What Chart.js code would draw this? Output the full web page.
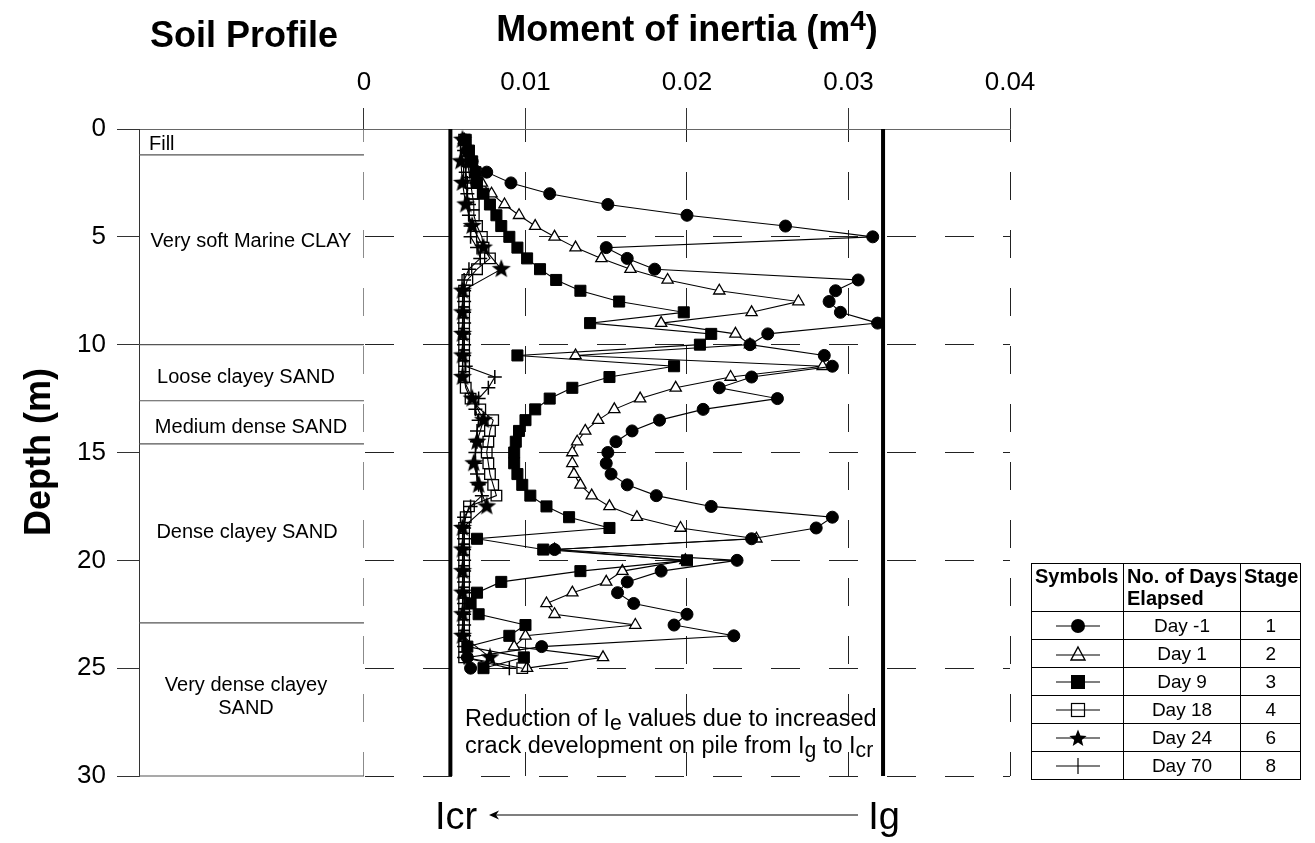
<!DOCTYPE html>
<html>
<head>
<meta charset="utf-8">
<script src="https://cdn.jsdelivr.net/npm/chart.js@4.4.1/dist/chart.umd.min.js"></script>
<style>
html,body{margin:0;padding:0;background:#fff;}
#wrap{position:relative;width:1315px;height:843px;font-family:"Liberation Sans",Arial,Helvetica,sans-serif;color:#000;overflow:hidden;}
#c{position:absolute;left:0;top:0;}
.t{position:absolute;white-space:nowrap;}
.c{transform:translateX(-50%);text-align:center;}
.soil{font-size:20px;line-height:20px;}
#lg{position:absolute;left:1031px;top:563px;border-collapse:collapse;table-layout:fixed;font-family:"Liberation Sans",Arial,sans-serif;}
#lg td,#lg th{border:1px solid #000;padding:0;}
#lg th{font-weight:bold;font-size:20px;line-height:22px;vertical-align:top;text-align:left;height:46px;padding:1px 2px 0 3px;}
#lg td{font-size:19px;line-height:20px;text-align:center;height:27px;vertical-align:middle;}
#lg svg{display:block;margin:0 auto;}
</style>
</head>
<body>
<div id="wrap">
<canvas id="c" width="1315" height="843"></canvas>

<div class="t c" style="left:244px;top:17px;font-size:36px;line-height:36px;font-weight:bold;">Soil Profile</div>
<div class="t c" style="left:687px;top:11px;font-size:36px;line-height:36px;font-weight:bold;">Moment of inertia (m<span style="font-size:0.78em;position:relative;top:-0.38em;">4</span>)</div>
<div class="t" style="left:38px;top:452px;font-size:36px;line-height:36px;font-weight:bold;transform:translate(-50%,-50%) rotate(-90deg);">Depth (m)</div>

<div class="t soil" style="left:149px;top:133px;">Fill</div>
<div class="t soil c" style="left:251px;top:230px;">Very soft Marine CLAY</div>
<div class="t soil c" style="left:246px;top:366px;">Loose clayey SAND</div>
<div class="t soil c" style="left:251px;top:416px;">Medium dense SAND</div>
<div class="t soil c" style="left:247px;top:521px;">Dense clayey SAND</div>
<div class="t soil c" style="left:246px;top:673px;line-height:23px;">Very dense clayey<br>SAND</div>

<div class="t" style="left:465px;top:705px;font-size:23.5px;line-height:27px;">Reduction of I<span style="font-size:0.9em;position:relative;top:0.18em;">e</span> values due to increased<br>crack development on pile from I<span style="font-size:0.9em;position:relative;top:0.18em;">g</span> to I<span style="font-size:0.9em;position:relative;top:0.18em;">cr</span></div>

<div class="t c" style="left:456px;top:797px;font-size:38px;line-height:38px;">Icr</div>
<div class="t c" style="left:884px;top:797px;font-size:38px;line-height:38px;">Ig</div>
<svg class="t" style="left:480px;top:806px;" width="392" height="18">
  <line x1="11" y1="9" x2="378" y2="9" stroke="#000" stroke-width="1.2"/>
  <polygon points="9,9 19,4.5 16,9 19,13.5" fill="#000"/>
</svg>

<table id="lg">
<colgroup><col style="width:92px"><col style="width:117px"><col style="width:58px"></colgroup>
<tr><th>Symbols</th><th>No. of Days<br>Elapsed</th><th>Stage</th></tr>
<tr><td><svg width="50" height="20"><line x1="3" y1="10" x2="47" y2="10" stroke="#000" stroke-width="1.2"/><circle cx="25" cy="10" r="7" fill="#000"/></svg></td><td>Day -1</td><td>1</td></tr>
<tr><td><svg width="50" height="20"><line x1="3" y1="11" x2="47" y2="11" stroke="#000" stroke-width="1.2"/><polygon points="25,3 32,16 18,16" fill="none" stroke="#000" stroke-width="1.4"/></svg></td><td>Day 1</td><td>2</td></tr>
<tr><td><svg width="50" height="20"><line x1="3" y1="10" x2="47" y2="10" stroke="#000" stroke-width="1.2"/><rect x="18" y="3" width="14" height="14" fill="#000"/></svg></td><td>Day 9</td><td>3</td></tr>
<tr><td><svg width="50" height="20"><line x1="3" y1="10" x2="47" y2="10" stroke="#000" stroke-width="1.2"/><rect x="18.5" y="3.5" width="13" height="13" fill="none" stroke="#000" stroke-width="1.2"/></svg></td><td>Day 18</td><td>4</td></tr>
<tr><td><svg width="50" height="20"><line x1="3" y1="10" x2="47" y2="10" stroke="#000" stroke-width="1.2"/><polygon points="25,1.5 27.4,7.6 33.6,7.9 28.8,11.9 30.3,18.1 25,14.6 19.7,18.1 21.2,11.9 16.4,7.9 22.6,7.6" fill="#000"/></svg></td><td>Day 24</td><td>6</td></tr>
<tr><td><svg width="50" height="20"><line x1="3" y1="10" x2="47" y2="10" stroke="#000" stroke-width="1.2"/><line x1="25" y1="2" x2="25" y2="18" stroke="#000" stroke-width="1.2"/></svg></td><td>Day 70</td><td>8</td></tr>
</table>
</div>

<script>
// ---------- axis / reference values ----------
const X_TICKS = [0, 0.01, 0.02, 0.03, 0.04];
const Y_TICKS = [0, 5, 10, 15, 20, 25, 30];
const X_MIN = -0.01393;
const X_MAX = 0.04;
const I_CR = 0.00535;
const I_G = 0.03214;
const SOIL_BOUNDARIES = [1.2, 10, 12.6, 14.6, 22.9, 30];

// ---------- depths ----------
const DEPTH_HALF = [0.5, 1, 1.5, 2, 2.5, 3, 3.5, 4, 4.5, 5, 5.5, 6, 6.5, 7, 7.5, 8, 8.5, 9, 9.5, 10,
  10.5, 11, 11.5, 12, 12.5, 13, 13.5, 14, 14.5, 15, 15.5, 16, 16.5, 17, 17.5, 18, 18.5, 19, 19.5, 20,
  20.5, 21, 21.5, 22, 22.5, 23, 23.5, 24, 24.5, 25];
const DEPTH_DAY24 = [0.5, 1.5, 2.5, 3.5, 4.5, 5.5, 6.5, 7.5, 8.5, 9.5, 10.5, 11.5, 12.5, 13.5, 14.5,
  15.5, 16.5, 17.5, 18.5, 19.5, 20.5, 21.5, 22.5, 23.5, 24.5];

// ---------- moment of inertia (m4) ----------
const DAY_M1 = [0.0062, 0.0064, 0.0067, 0.0076, 0.0091, 0.0115, 0.0151, 0.0200, 0.0261, 0.0315,
  0.0150, 0.0163, 0.0180, 0.0306, 0.0292, 0.0288, 0.0295, 0.0318, 0.0250, 0.0239,
  0.0285, 0.0290, 0.0240, 0.0220, 0.0256, 0.0210, 0.0183, 0.0166, 0.0156, 0.0151,
  0.0150, 0.0153, 0.0163, 0.0181, 0.0215, 0.0290, 0.0280, 0.0240, 0.0118, 0.0231,
  0.0184, 0.0163, 0.0157, 0.0167, 0.0200, 0.0192, 0.0229, 0.0110, 0.0064, 0.0066];
const DAY_1 = [0.0062, 0.0064, 0.0066, 0.0069, 0.0073, 0.0079, 0.0087, 0.0096, 0.0106, 0.0118,
  0.0131, 0.0147, 0.0165, 0.0188, 0.0220, 0.0269, 0.0240, 0.0184, 0.0230, 0.0239,
  0.0131, 0.0284, 0.0227, 0.0193, 0.0171, 0.0155, 0.0145, 0.0137, 0.0132, 0.0129,
  0.0129, 0.0130, 0.0134, 0.0141, 0.0152, 0.0169, 0.0196, 0.0243, 0.0118, 0.0199,
  0.0160, 0.0150, 0.0129, 0.0113, 0.0118, 0.0168, 0.0100, 0.0093, 0.0148, 0.0101];
const DAY_9 = [0.0063, 0.0065, 0.0067, 0.0069, 0.0070, 0.0074, 0.0078, 0.0082, 0.0085, 0.0090,
  0.0095, 0.0101, 0.0109, 0.0119, 0.0134, 0.0158, 0.0198, 0.0140, 0.0215, 0.0208,
  0.0095, 0.0192, 0.0152, 0.0129, 0.0115, 0.0106, 0.0100, 0.0096, 0.0094, 0.0093,
  0.0093, 0.0095, 0.0098, 0.0103, 0.0113, 0.0127, 0.0152, 0.0070, 0.0111, 0.0200,
  0.0134, 0.0085, 0.0070, 0.0066, 0.0071, 0.0100, 0.0090, 0.0064, 0.0099, 0.0074];
const DAY_18 = [0.0062, 0.0063, 0.0064, 0.0065, 0.0066, 0.0067, 0.0068, 0.0068, 0.0070, 0.0073,
  0.0074, 0.0078, 0.0070, 0.0064, 0.0062, 0.0062, 0.0062, 0.0062, 0.0062, 0.0062,
  0.0062, 0.0062, 0.0062, 0.0063, 0.0066, 0.0072, 0.0080, 0.0078, 0.0077, 0.0076,
  0.0077, 0.0078, 0.0080, 0.0082, 0.0065, 0.0063, 0.0062, 0.0062, 0.0062, 0.0062,
  0.0062, 0.0062, 0.0062, 0.0062, 0.0062, 0.0062, 0.0062, 0.0062, 0.0062, 0.0098];
const DAY_24 = [0.0061, 0.0060, 0.0061, 0.0063, 0.0067, 0.0074, 0.0085, 0.0061, 0.0061, 0.0061,
  0.0061, 0.0061, 0.0067, 0.0074, 0.0070, 0.0068, 0.0071, 0.0076, 0.0061, 0.0061,
  0.0061, 0.0061, 0.0061, 0.0061, 0.0078];
const DAY_70 = [0.0062, 0.0062, 0.0063, 0.0063, 0.0064, 0.0064, 0.0065, 0.0065, 0.0066, 0.0066,
  0.0070, 0.0072, 0.0065, 0.0062, 0.0062, 0.0062, 0.0062, 0.0062, 0.0062, 0.0062,
  0.0062, 0.0063, 0.0081, 0.0077, 0.0071, 0.0069, 0.0071, 0.0070, 0.0070, 0.0069,
  0.0069, 0.0070, 0.0071, 0.0073, 0.0066, 0.0062, 0.0062, 0.0062, 0.0062, 0.0062,
  0.0062, 0.0062, 0.0062, 0.0062, 0.0062, 0.0062, 0.0062, 0.0062, 0.0062, 0.0090];

// ---------- helpers ----------
const pts = (depths, vals) => depths.map((d, i) => ({x: vals[i], y: d}));

function starCanvas(R, r) {
  const s = Math.ceil(2 * R + 2);
  const c = document.createElement('canvas');
  c.width = s; c.height = s;
  const g = c.getContext('2d');
  g.translate(s / 2, s / 2);
  g.beginPath();
  for (let i = 0; i < 10; i++) {
    const rad = i % 2 ? r : R;
    const a = -Math.PI / 2 + i * Math.PI / 5;
    g.lineTo(rad * Math.cos(a), rad * Math.sin(a));
  }
  g.closePath();
  g.fillStyle = '#000';
  g.fill();
  return c;
}
const STAR = starCanvas(10, 4.2);

const base = {showLine: true, borderColor: '#000', borderWidth: 1.1, clip: false, pointHoverRadius: 6};

const datasets = [
  Object.assign({}, base, {label: 'Day 24', data: pts(DEPTH_DAY24, DAY_24), pointStyle: STAR, pointRadius: 10}),
  Object.assign({}, base, {label: 'Day 70', data: pts(DEPTH_HALF, DAY_70), pointStyle: 'cross', pointRadius: 7,
    pointBorderColor: '#000', pointBorderWidth: 1.5}),
  Object.assign({}, base, {label: 'Day 18', data: pts(DEPTH_HALF, DAY_18), pointStyle: 'rect', pointRadius: 7.5,
    pointBackgroundColor: 'rgba(0,0,0,0)', pointBorderColor: '#000', pointBorderWidth: 1.3}),
  Object.assign({}, base, {label: 'Day -1', data: pts(DEPTH_HALF, DAY_M1), pointStyle: 'circle', pointRadius: 6,
    pointBackgroundColor: '#000', pointBorderColor: '#000', pointBorderWidth: 1}),
  Object.assign({}, base, {label: 'Day 9', data: pts(DEPTH_HALF, DAY_9), pointStyle: 'rect', pointRadius: 7.8,
    pointBackgroundColor: '#000', pointBorderColor: '#000', pointBorderWidth: 1}),
  Object.assign({}, base, {label: 'Day 1', data: pts(DEPTH_HALF, DAY_1), pointStyle: 'triangle', pointRadius: 6.5,
    pointBackgroundColor: '#fff', pointBorderColor: '#000', pointBorderWidth: 1.3}),
  // Icr and Ig reference lines
  {label: 'Icr', data: [{x: I_CR, y: Y_TICKS[0]}, {x: I_CR, y: Y_TICKS[Y_TICKS.length - 1]}], showLine: true,
    borderColor: '#000', borderWidth: 4, pointRadius: 0, clip: false},
  {label: 'Ig', data: [{x: I_G, y: Y_TICKS[0]}, {x: I_G, y: Y_TICKS[Y_TICKS.length - 1]}], showLine: true,
    borderColor: '#000', borderWidth: 4, pointRadius: 0, clip: false}
];
// soil profile layer boundaries
SOIL_BOUNDARIES.forEach(d => datasets.push({label: 'soil ' + d, data: [{x: X_MIN, y: d}, {x: 0, y: d}],
  showLine: true, borderColor: '#555', borderWidth: 1.2, pointRadius: 0, clip: false}));

const soilMask = {
  id: 'soilMask',
  beforeDatasetsDraw(chart) {
    const {ctx, chartArea: a, scales: {x}} = chart;
    const x0 = x.getPixelForValue(0);
    ctx.save();
    ctx.fillStyle = '#fff';
    ctx.fillRect(a.left + 1, a.top + 1, x0 - 0.5 - (a.left + 1), a.bottom - a.top + 2);
    ctx.restore();
  }
};

Chart.defaults.font.family = '"Liberation Sans", Arial, Helvetica, sans-serif';
Chart.defaults.color = '#000';

new Chart(document.getElementById('c'), {
  type: 'scatter',
  data: {datasets},
  plugins: [soilMask],
  options: {
    responsive: false,
    animation: false,
    events: [],
    layout: {padding: {left: 0, top: 0, right: 305, bottom: 67}},
    plugins: {legend: {display: false}, tooltip: {enabled: false}},
    scales: {
      x: {
        type: 'linear', position: 'top', min: X_MIN, max: X_MAX,
        afterBuildTicks: s => { s.ticks = X_TICKS.map(v => ({value: v})); },
        afterFit: s => { s.height = 129; },
        ticks: {font: {size: 26}, padding: 10, maxRotation: 0, autoSkip: false,
          callback: v => String(v)},
        grid: {color: '#222', lineWidth: 1, tickLength: 21, tickColor: '#333', tickBorderDash: []},
        border: {display: true, color: '#666', width: 1, dash: [28, 30], dashOffset: 16}
      },
      y: {
        type: 'linear', position: 'left', reverse: true, min: Y_TICKS[0], max: Y_TICKS[Y_TICKS.length - 1],
        afterBuildTicks: s => { s.ticks = Y_TICKS.map(v => ({value: v})); },
        afterFit: s => { s.width = 139; },
        ticks: {font: {size: 26}, padding: 11, autoSkip: false},
        grid: {color: ctx => (ctx.tick && ctx.tick.value === 0) ? 'rgba(0,0,0,0)' : '#222',
          lineWidth: 1, tickLength: 22, tickColor: '#333', tickBorderDash: []},
        border: {display: true, color: '#333', width: 1, dash: [29, 29], dashOffset: 7}
      }
    }
  }
});
</script>
</body>
</html>
